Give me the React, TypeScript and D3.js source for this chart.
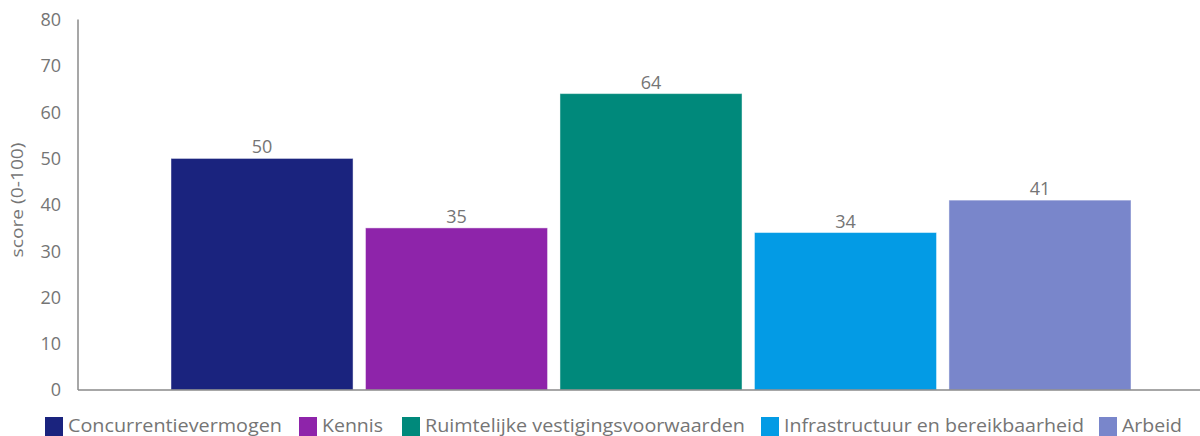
import React from "react";
import * as d3 from "d3";

const series = [
  "Concurrentievermogen",
  "Kennis",
  "Ruimtelijke vestigingsvoorwaarden",
  "Infrastructuur en bereikbaarheid",
  "Arbeid",
];
const values = [50, 35, 64, 34, 41];
const colors = ["#1a237e", "#8e24aa", "#00897b", "#039be5", "#7986cb"];
const yTicks = [0, 10, 20, 30, 40, 50, 60, 70, 80];
const yTitle = "score (0-100)";

const W = 1200;
const H = 436;
const FONT = "'Open Sans', 'Noto Sans', sans-serif";
const legendX = [45, 299, 402, 761, 1099];
const legendTextW = [214, 61, 320, 300, 60];

export default function App() {
  const y = d3.scaleLinear().domain([0, 80]).range([390, 19.5]);
  const x = d3.scaleBand<string>().domain(series).range([171, 1131]).paddingInner(0.064);
  const axisColor = "#8a8a8a";
  const textColor = "#757575";
  return (
    <svg width={W} height={H} style={{ position: "absolute", left: 0, top: 0, fontFamily: FONT }}>
      {yTicks.map((t) => (
        <text key={t} x={61} y={y(t)} dy="0.36em" textAnchor="end" fontSize={18} fill={textColor}>
          {t}
        </text>
      ))}
      <text
        transform={`translate(23,200) rotate(-90)`}
        textAnchor="middle"
        fontSize={16}
        fill={textColor}
        textLength={115}
        lengthAdjust="spacingAndGlyphs"
      >
        {yTitle}
      </text>
      {series.map((s, i) => (
        <g key={s}>
          <rect
            x={x(s)}
            y={y(values[i])}
            width={x.bandwidth()}
            height={y(0) - y(values[i])}
            fill={colors[i]}
            stroke="rgba(255,255,255,0.45)"
            strokeWidth={1}
          />
          <text
            x={(x(s) as number) + x.bandwidth() / 2}
            y={y(values[i]) - 5}
            textAnchor="middle"
            fontSize={18}
            fill={textColor}
          >
            {values[i]}
          </text>
        </g>
      ))}
      <line x1={78} x2={W} y1={y(0)} y2={y(0)} stroke={axisColor} strokeWidth={1.5} />
      <line x1={78} x2={78} y1={y(80)} y2={y(0)} stroke={axisColor} strokeWidth={1.5} />
      {series.map((s, i) => (
        <g key={"l" + s} transform={`translate(${legendX[i]},417)`}>
          <rect x={0} y={0} width={18} height={19} fill={colors[i]} />
          <text
            x={23}
            y={15}
            fontSize={18}
            fill={textColor}
            textLength={legendTextW[i]}
            lengthAdjust="spacingAndGlyphs"
          >
            {s}
          </text>
        </g>
      ))}
    </svg>
  );
}
